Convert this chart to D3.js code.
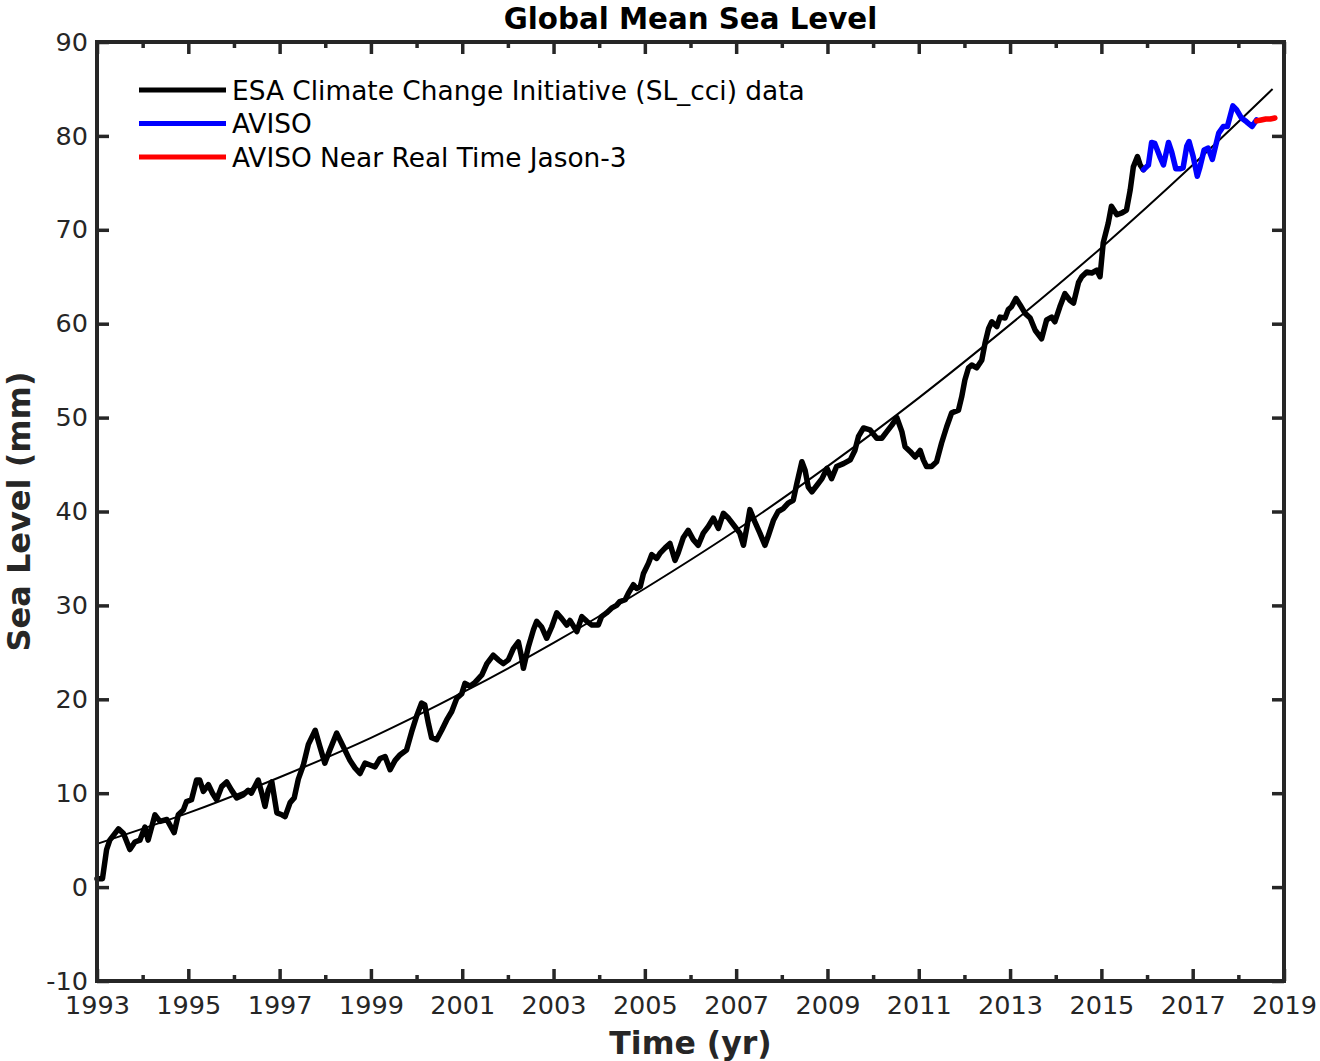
<!DOCTYPE html>
<html>
<head>
<meta charset="utf-8">
<title>Global Mean Sea Level</title>
<script src="https://cdn.jsdelivr.net/npm/d3@7"></script>
<style>
  html, body { margin: 0; padding: 0; background: #ffffff; }
  svg { display: block; font-family: "DejaVu Sans", sans-serif; }
</style>
</head>
<body>
<svg id="chart" width="1320" height="1061"></svg>
<script>
// ESA Climate Change Initiative (SL_cci) series: [decimal year, sea level in mm]
const slCci = [
  [1993.00, 0.9], [1993.12, 0.9], [1993.21, 4.0], [1993.28, 5.0], [1993.47, 6.2], [1993.58, 5.7],
  [1993.72, 4.0], [1993.83, 4.8], [1993.94, 5.0], [1994.05, 6.4], [1994.12, 5.0], [1994.27, 7.7],
  [1994.38, 7.0], [1994.53, 7.2], [1994.69, 5.8], [1994.78, 7.7], [1994.89, 8.2], [1994.96, 9.1],
  [1995.07, 9.3], [1995.18, 11.4], [1995.25, 11.4], [1995.33, 10.2], [1995.44, 10.9], [1995.53, 10.0],
  [1995.62, 9.3], [1995.73, 10.7], [1995.84, 11.2], [1995.95, 10.3], [1996.06, 9.5], [1996.20, 9.8],
  [1996.31, 10.3], [1996.38, 10.0], [1996.53, 11.4], [1996.61, 10.0], [1996.68, 8.6], [1996.75, 10.3],
  [1996.83, 11.2], [1996.94, 7.9], [1997.05, 7.7], [1997.12, 7.5], [1997.23, 9.0], [1997.32, 9.5],
  [1997.41, 11.5], [1997.52, 13.0], [1997.63, 15.2], [1997.78, 16.7], [1997.88, 15.0], [1997.99, 13.2],
  [1998.10, 14.6], [1998.25, 16.4], [1998.39, 15.0], [1998.54, 13.5], [1998.65, 12.7], [1998.76, 12.1],
  [1998.87, 13.2], [1998.98, 13.0], [1999.09, 12.8], [1999.20, 13.7], [1999.31, 13.9], [1999.42, 12.5],
  [1999.53, 13.5], [1999.64, 14.1], [1999.78, 14.6], [1999.89, 16.5], [2000.00, 18.2], [2000.11, 19.6],
  [2000.18, 19.4], [2000.26, 17.4], [2000.33, 15.9], [2000.44, 15.7], [2000.55, 16.7], [2000.66, 17.8],
  [2000.77, 18.7], [2000.88, 20.1], [2000.99, 20.6], [2001.06, 21.7], [2001.17, 21.4], [2001.28, 21.8],
  [2001.43, 22.6], [2001.54, 23.8], [2001.68, 24.7], [2001.79, 24.2], [2001.90, 23.8], [2002.01, 24.2],
  [2002.12, 25.4], [2002.23, 26.1], [2002.30, 24.5], [2002.34, 23.3], [2002.45, 25.6], [2002.56, 27.4],
  [2002.63, 28.3], [2002.74, 27.7], [2002.85, 26.5], [2002.96, 27.7], [2003.07, 29.2], [2003.18, 28.6],
  [2003.29, 27.9], [2003.36, 28.4], [2003.51, 27.2], [2003.62, 28.8], [2003.73, 28.3], [2003.84, 27.9],
  [2003.98, 27.9], [2004.05, 28.8], [2004.16, 29.2], [2004.27, 29.7], [2004.38, 30.0], [2004.45, 30.4],
  [2004.57, 30.6], [2004.64, 31.3], [2004.75, 32.2], [2004.82, 31.8], [2004.90, 32.0], [2004.97, 33.4],
  [2005.08, 34.5], [2005.15, 35.4], [2005.26, 35.0], [2005.34, 35.6], [2005.44, 36.1], [2005.55, 36.6],
  [2005.66, 34.8], [2005.73, 35.6], [2005.84, 37.2], [2005.95, 38.0], [2006.06, 37.0], [2006.17, 36.4],
  [2006.28, 37.7], [2006.39, 38.4], [2006.50, 39.3], [2006.61, 38.2], [2006.72, 39.8], [2006.83, 39.3],
  [2006.97, 38.4], [2007.08, 37.7], [2007.16, 36.4], [2007.23, 38.2], [2007.30, 40.2], [2007.41, 38.9],
  [2007.52, 37.7], [2007.63, 36.4], [2007.71, 37.5], [2007.82, 39.1], [2007.92, 40.0], [2008.03, 40.3],
  [2008.14, 40.9], [2008.25, 41.2], [2008.33, 43.0], [2008.44, 45.3], [2008.51, 44.4], [2008.58, 42.6],
  [2008.66, 42.1], [2008.77, 42.8], [2008.88, 43.5], [2008.99, 44.6], [2009.09, 43.5], [2009.20, 44.8],
  [2009.35, 45.1], [2009.50, 45.5], [2009.60, 46.5], [2009.68, 48.0], [2009.79, 48.9], [2009.93, 48.7],
  [2010.08, 47.8], [2010.19, 47.8], [2010.30, 48.5], [2010.41, 49.2], [2010.52, 50.0], [2010.63, 48.5],
  [2010.70, 46.9], [2010.81, 46.4], [2010.92, 45.8], [2011.03, 46.5], [2011.10, 45.5], [2011.17, 44.8],
  [2011.28, 44.8], [2011.39, 45.3], [2011.50, 47.3], [2011.61, 49.0], [2011.72, 50.5], [2011.87, 50.8],
  [2011.94, 52.2], [2012.01, 54.0], [2012.09, 55.3], [2012.16, 55.6], [2012.27, 55.3], [2012.38, 56.1],
  [2012.45, 57.9], [2012.53, 59.5], [2012.60, 60.2], [2012.71, 59.7], [2012.78, 60.7], [2012.89, 60.6],
  [2012.96, 61.5], [2013.03, 61.8], [2013.13, 62.7], [2013.22, 62.0], [2013.33, 61.1], [2013.44, 60.6],
  [2013.55, 59.3], [2013.69, 58.4], [2013.80, 60.4], [2013.91, 60.7], [2013.98, 60.2], [2014.09, 61.8],
  [2014.20, 63.2], [2014.31, 62.5], [2014.39, 62.2], [2014.50, 64.4], [2014.57, 65.0], [2014.68, 65.5],
  [2014.79, 65.4], [2014.90, 65.7], [2014.97, 65.0], [2015.04, 68.6], [2015.15, 70.7], [2015.22, 72.5],
  [2015.34, 71.6], [2015.45, 71.8], [2015.55, 72.1], [2015.63, 74.2], [2015.70, 76.7], [2015.79, 77.8],
  [2015.85, 76.9], [2015.92, 76.4]
];

// AVISO series
const aviso = [
  [2015.92, 76.4], [2016.03, 76.9], [2016.10, 79.3], [2016.17, 79.2], [2016.28, 77.8], [2016.36, 76.9],
  [2016.47, 79.3], [2016.54, 78.3], [2016.63, 76.5], [2016.72, 76.5], [2016.79, 76.6], [2016.87, 78.9],
  [2016.92, 79.4], [2017.01, 77.8], [2017.10, 75.7], [2017.16, 76.7], [2017.25, 78.5], [2017.34, 78.7],
  [2017.43, 77.5], [2017.49, 78.7], [2017.57, 80.3], [2017.67, 81.0], [2017.76, 81.0], [2017.88, 83.2],
  [2017.96, 82.8], [2018.07, 81.9], [2018.18, 81.5], [2018.30, 81.0], [2018.37, 81.5], [2018.40, 81.7]
];

// AVISO Near Real Time Jason-3
const avisoNrt = [
  [2018.40, 81.6], [2018.50, 81.7], [2018.60, 81.8], [2018.70, 81.8], [2018.80, 81.9]
];

// Quadratic trend curve, sampled
const trend = [
  [1993, 4.6], [1995, 7.9], [1997, 11.7], [1999, 15.9], [2001, 20.7], [2003, 26.0],
  [2005, 31.8], [2007, 38.0], [2009, 44.8], [2011, 52.1], [2013, 59.9], [2015, 68.1],
  [2017, 76.9], [2018.75, 85.0]
];

const yearTicks = d3.range(1993, 2020);
const yTicks = [-10, 0, 10, 20, 30, 40, 50, 60, 70, 80, 90];

const legendItems = [
  { label: "ESA Climate Change Initiative (SL_cci) data", color: "#000000" },
  { label: "AVISO", color: "#0000ff" },
  { label: "AVISO Near Real Time Jason-3", color: "#ff0000" }
];

const svg = d3.select("#chart");
const frame = { left: 97, right: 1284, top: 42, bottom: 981 };
const axisColor = "#262626";

const x = d3.scaleLinear().domain([1993, 2019]).range([frame.left, frame.right]);
const y = d3.scaleLinear().domain([-10, 90]).range([frame.bottom, frame.top]);

// trend curve (thin)
const plot = svg.append("g");
plot.append("path")
  .datum(trend)
  .attr("d", d3.line().x(d => x(d[0])).y(d => y(d[1])).curve(d3.curveNatural))
  .attr("fill", "none").attr("stroke", "#000").attr("stroke-width", 2);

// data series (thick)
const dataLine = d3.line().x(d => x(d[0])).y(d => y(d[1]));
[[slCci, "#000000"], [aviso, "#0000ff"], [avisoNrt, "#ff0000"]].forEach(([d, c]) => {
  plot.append("path")
    .datum(d)
    .attr("d", dataLine)
    .attr("fill", "none")
    .attr("stroke", c)
    .attr("stroke-width", 5.5)
    .attr("stroke-linejoin", "round")
    .attr("stroke-linecap", "round");
});

// axes: major ticks on odd years (labelled), minor on even years
const majorYears = yearTicks.filter(t => t % 2 === 1);
const minorYears = yearTicks.filter(t => t % 2 === 0);
const plainFormat = d => String(d);

function styleAxis(g) {
  g.select(".domain").remove();
  g.selectAll(".tick line").attr("stroke", axisColor).attr("stroke-width", 3.5);
  g.selectAll(".tick text").attr("fill", axisColor)
    .attr("font-family", "DejaVu Sans").attr("font-size", 25.5);
}

svg.append("g").attr("transform", `translate(0,${frame.bottom})`)
  .call(d3.axisBottom(x).tickValues(majorYears).tickFormat(plainFormat).tickSize(-12).tickPadding(15))
  .call(styleAxis);
svg.append("g").attr("transform", `translate(0,${frame.bottom})`)
  .call(d3.axisBottom(x).tickValues(minorYears).tickFormat("").tickSize(-6))
  .call(styleAxis);
svg.append("g").attr("transform", `translate(0,${frame.top})`)
  .call(d3.axisTop(x).tickValues(majorYears).tickFormat("").tickSize(-12))
  .call(styleAxis);
svg.append("g").attr("transform", `translate(0,${frame.top})`)
  .call(d3.axisTop(x).tickValues(minorYears).tickFormat("").tickSize(-6))
  .call(styleAxis);
svg.append("g").attr("transform", `translate(${frame.left},0)`)
  .call(d3.axisLeft(y).tickValues(yTicks).tickFormat(plainFormat).tickSize(-12).tickPadding(9))
  .call(styleAxis);
svg.append("g").attr("transform", `translate(${frame.right},0)`)
  .call(d3.axisRight(y).tickValues(yTicks).tickFormat("").tickSize(-12))
  .call(styleAxis);

// box
svg.append("rect")
  .attr("x", frame.left).attr("y", frame.top)
  .attr("width", frame.right - frame.left).attr("height", frame.bottom - frame.top)
  .attr("fill", "none").attr("stroke", axisColor).attr("stroke-width", 4);

// title and axis labels
svg.append("text")
  .attr("x", (frame.left + frame.right) / 2).attr("y", 29)
  .attr("text-anchor", "middle")
  .attr("font-size", 29.3).attr("font-weight", "bold").attr("fill", "#000")
  .text("Global Mean Sea Level");

svg.append("text")
  .attr("x", (frame.left + frame.right) / 2).attr("y", 1054)
  .attr("text-anchor", "middle")
  .attr("font-size", 31.5).attr("font-weight", "bold").attr("fill", axisColor)
  .text("Time (yr)");

svg.append("text")
  .attr("transform", `translate(30,${(frame.top + frame.bottom) / 2}) rotate(-90)`)
  .attr("text-anchor", "middle")
  .attr("font-size", 32).attr("font-weight", "bold").attr("fill", axisColor)
  .text("Sea Level (mm)");

// legend
const legend = svg.append("g");
legendItems.forEach((item, i) => {
  const ly = 90 + i * 33.5;
  legend.append("line")
    .attr("x1", 139).attr("x2", 226).attr("y1", ly).attr("y2", ly)
    .attr("stroke", item.color).attr("stroke-width", 5);
  legend.append("text")
    .attr("x", 232).attr("y", ly).attr("dy", "0.36em")
    .attr("font-size", 26.4).attr("fill", "#000")
    .text(item.label);
});
</script>
</body>
</html>
